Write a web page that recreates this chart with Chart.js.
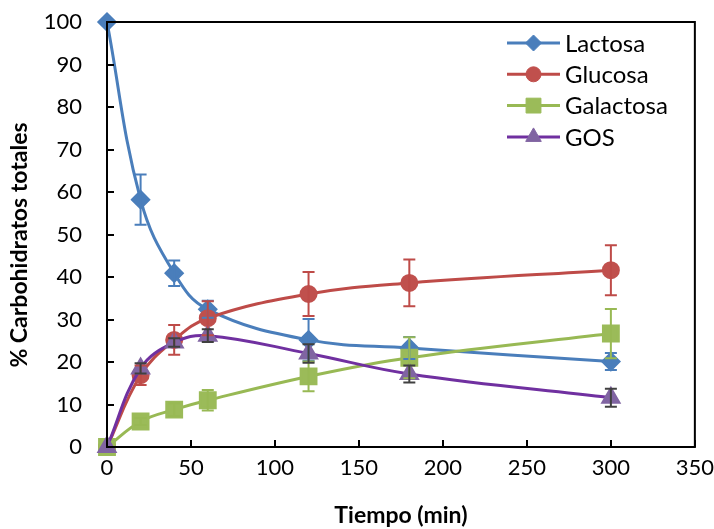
<!DOCTYPE html>
<html>
<head>
<meta charset="utf-8">
<script src="https://cdn.jsdelivr.net/npm/chart.js@4"></script>
<style>
  html, body { margin: 0; padding: 0; background: #fff; }
  #wrap { width: 714px; height: 529px; }
</style>
</head>
<body>
<div id="wrap"><canvas id="myChart" width="714" height="529"></canvas></div>
<script>
// datos
var tiempos = [0, 20, 40, 60, 120, 180, 300];
var lactosa = [100, 58.2, 40.9, 32.4, 25.2, 23.3, 20.1];
var lactosaErr = [0, 5.9, 3.0, 2.0, 4.9, 2.6, 2.0];
var glucosa = [0, 16.9, 25.2, 30.3, 36.0, 38.6, 41.6];
var glucosaErr = [0, 2.3, 3.5, 4.0, 5.2, 5.5, 5.9];
var galactosa = [0, 6.0, 8.8, 11.0, 16.6, 21.0, 26.7];
var galactosaErr = [0, 0.8, 1.5, 2.4, 3.5, 4.8, 5.8];
var gos = [0, 18.5, 24.6, 26.2, 22.0, 17.2, 11.6];
var gosErr = [0, 1.2, 1.0, 1.5, 2.2, 2.0, 2.1];

var xTicks = [0, 50, 100, 150, 200, 250, 300, 350];
var yTicks = [0, 10, 20, 30, 40, 50, 60, 70, 80, 90, 100];

var FONT = "Lato, 'Open Sans', sans-serif";

function pts(vals) {
    return tiempos.map(function (t, i) { return { x: t, y: vals[i] }; });
}

function serie(label, vals, errs, line, fill, errColor, shape, r, orden) {
    return {
        label: label,
        data: pts(vals),
        errores: errs,
        errColor: errColor,
        borderColor: line,
        backgroundColor: fill,
        pointBackgroundColor: fill,
        pointBorderColor: fill,
        pointStyle: shape,
        pointRadius: r,
        pointHoverRadius: r,
        borderWidth: 3,
        tension: 0.4,
        clip: false,
        order: orden
    };
}

// la ultima serie queda encima, como en Excel
var datasets = [
    serie('Lactosa', lactosa, lactosaErr, '#4a7ebb', '#4a7ebb', '#4a7ebb', 'rectRot', 8, 4),
    serie('Glucosa', glucosa, glucosaErr, '#be4b48', '#c0504d', '#be4b48', 'circle', 7.5, 3),
    serie('Galactosa', galactosa, galactosaErr, '#98b954', '#9bbb59', '#98b954', 'rect', 10.5, 2),
    serie('GOS', gos, gosErr, '#7030a0', '#8064a2', '#404040', 'triangle', 9, 1)
];

// barras de error
var errorBars = {
    id: 'errorBars',
    afterDatasetsDraw: function (chart) {
        var ctx = chart.ctx, xs = chart.scales.x, ys = chart.scales.y;
        chart.data.datasets.forEach(function (ds) {
            ctx.save();
            ctx.strokeStyle = ds.errColor;
            ctx.lineWidth = 2;
            ds.data.forEach(function (p, i) {
                var e = ds.errores[i];
                if (!e) return;
                var px = xs.getPixelForValue(p.x);
                var top = ys.getPixelForValue(p.y + e);
                var bot = ys.getPixelForValue(p.y - e);
                ctx.beginPath();
                ctx.moveTo(px, top); ctx.lineTo(px, bot);
                ctx.moveTo(px - 6, top); ctx.lineTo(px + 6, top);
                ctx.moveTo(px - 6, bot); ctx.lineTo(px + 6, bot);
                ctx.stroke();
            });
            ctx.restore();
        });
    }
};

// marco, marcas hacia dentro y titulo del eje Y
var marco = {
    id: 'marco',
    afterDraw: function (chart) {
        var ctx = chart.ctx, a = chart.chartArea, xs = chart.scales.x, ys = chart.scales.y;
        ctx.save();
        ctx.strokeStyle = '#000';
        ctx.lineWidth = 2;
        ctx.strokeRect(a.left, a.top, a.right - a.left, a.bottom - a.top);
        ctx.beginPath();
        xTicks.forEach(function (v) {
            var px = Math.round(xs.getPixelForValue(v));
            ctx.moveTo(px, a.bottom); ctx.lineTo(px, a.bottom - 7);
        });
        yTicks.forEach(function (v) {
            var py = Math.round(ys.getPixelForValue(v));
            ctx.moveTo(a.left, py); ctx.lineTo(a.left + 7, py);
        });
        ctx.stroke();

        ctx.translate(20, 245);
        ctx.rotate(-Math.PI / 2);
        ctx.fillStyle = '#000';
        ctx.font = 'bold 23px ' + FONT;
        ctx.textAlign = 'center';
        ctx.textBaseline = 'middle';
        ctx.fillText('% Carbohidratos totales', 0, 0);
        ctx.restore();
    }
};

// leyenda dentro del area
var leyenda = {
    id: 'leyenda',
    afterDraw: function (chart) {
        var ctx = chart.ctx;
        var x0 = 507, x1 = 560, y = 43, paso = 31.3;
        chart.data.datasets.forEach(function (ds, i) {
            var yy = y + i * paso;
            ctx.save();
            ctx.strokeStyle = ds.borderColor;
            ctx.lineWidth = 3;
            ctx.beginPath(); ctx.moveTo(x0, yy); ctx.lineTo(x1, yy); ctx.stroke();
            ctx.fillStyle = ds.pointBackgroundColor;
            ctx.strokeStyle = ds.pointBorderColor;
            ctx.lineWidth = 1;
            Chart.helpers.drawPoint(ctx, { pointStyle: ds.pointStyle, radius: ds.pointRadius, borderWidth: 1, rotation: 0 }, (x0 + x1) / 2, yy);
            ctx.fillStyle = '#000';
            ctx.font = '24px ' + FONT;
            ctx.textBaseline = 'middle';
            ctx.textAlign = 'left';
            ctx.fillText(ds.label, 565, yy + 1);
            ctx.restore();
        });
    }
};

var ctx = document.getElementById('myChart').getContext('2d');
var myChart = new Chart(ctx, {
    type: 'line',
    data: { datasets: datasets },
    options: {
        responsive: false,
        animation: false,
        layout: { padding: { top: 22, right: 19, left: 0, bottom: 0 } },
        plugins: {
            legend: { display: false },
            tooltip: { enabled: false }
        },
        scales: {
            x: {
                type: 'linear',
                min: 0, max: 350,
                afterFit: function (s) { s.height = 82; },
                afterBuildTicks: function (s) { s.ticks = xTicks.map(function (v) { return { value: v }; }); },
                grid: { display: true, drawOnChartArea: false, drawTicks: true, tickLength: 8, color: 'rgba(0,0,0,0)', tickColor: 'rgba(0,0,0,0)' },
                border: { display: false },
                ticks: { color: '#000', padding: 0, maxRotation: 0, font: { family: FONT, size: 22 } },
                title: { display: true, text: 'Tiempo (min)', color: '#000', padding: { top: 0, bottom: 0 }, font: { family: FONT, size: 23, weight: 'bold' } }
            },
            y: {
                min: 0, max: 100,
                afterFit: function (s) { s.width = 107; },
                afterBuildTicks: function (s) { s.ticks = yTicks.map(function (v) { return { value: v }; }); },
                grid: { display: true, drawOnChartArea: false, drawTicks: true, tickLength: 25, color: 'rgba(0,0,0,0)', tickColor: 'rgba(0,0,0,0)' },
                border: { display: false },
                ticks: { color: '#000', padding: 0, font: { family: FONT, size: 22 } },
                title: { display: false }
            }
        }
    },
    plugins: [errorBars, marco, leyenda]
});
</script>
</body>
</html>
